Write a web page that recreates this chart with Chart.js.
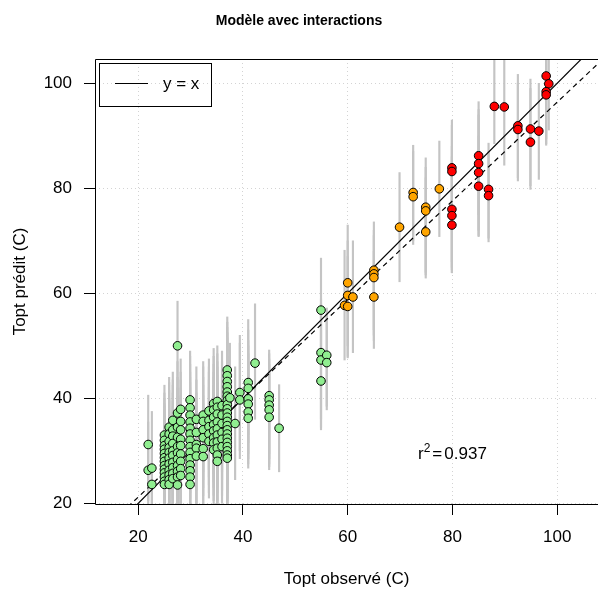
<!DOCTYPE html>
<html><head><meta charset="utf-8">
<script src="https://cdn.jsdelivr.net/npm/chart.js@4"></script>
<style>html,body{margin:0;padding:0;background:#fff;}#wrap{width:598px;height:591px;}</style>
</head><body><div id="wrap"><canvas id="c" width="598" height="591"></canvas></div>
<script>
const chartTitle = 'Modèle avec interactions';
const xLabel = 'Topt observé (C)';
const yLabel = 'Topt prédit (C)';
const legendLabel = 'y = x';
const r2Value = '0.937';
const r2Pos = [80, 29.6];
const xTicks = [20, 40, 60, 80, 100];
const yTicks = [20, 40, 60, 80, 100];
const xRange = [11.74, 107.8];
const yRange = [19.87, 104.63];
const fitSlope = 0.94;
const fitIntercept = 2.4;

const greenX = [
 21.9, 21.9, 22.6, 22.6,
 25.0, 25.0, 25.0, 25.0, 25.0, 25.0, 25.0, 25.0, 25.0, 25.0, 25.0, 25.0, 25.0,
 25.9, 25.9, 25.9, 25.9, 25.9, 25.9, 25.9, 25.9, 25.9, 25.9, 25.9,
 26.6, 26.6, 26.6, 26.6, 26.6, 26.6, 26.6, 26.6, 26.6, 26.6,
 27.5, 27.5, 27.5, 27.5, 27.5, 27.5, 27.5, 27.5, 27.5, 27.5, 27.5,
 28.1, 28.1, 28.1, 28.1, 28.1, 28.1, 28.1, 28.1, 28.1,
 29.9, 29.9, 29.9, 29.9, 29.9, 29.9, 29.9, 29.9, 29.9, 29.9, 29.9, 29.9, 29.9, 29.9,
 31.1, 31.1, 31.1, 31.1, 31.1,
 32.4, 32.4, 32.4, 32.4, 32.4, 32.4,
 33.5, 33.5, 33.5, 33.5, 33.5,
 34.4, 34.4, 34.4, 34.4, 34.4, 34.4, 34.4, 34.4,
 35.1, 35.1, 35.1, 35.1, 35.1, 35.1, 35.1, 35.1, 35.1, 35.1,
 36.0, 36.0, 36.0, 36.0, 36.0, 36.0,
 37.0, 37.0, 37.0, 37.0, 37.0, 37.0, 37.0, 37.0, 37.0, 37.0, 37.0, 37.0, 37.0, 37.0, 37.0, 37.0, 37.0, 37.0, 37.0, 37.0, 37.0,
 37.5, 38.5, 39.4, 39.4,
 41.0, 41.0, 41.0, 41.0, 41.0, 41.0,
 42.3,
 45.0, 45.0, 45.0, 45.0, 45.0,
 46.9,
 54.9, 54.9, 54.9, 54.9, 56.0, 56.0
];
const greenY = [
 31.2, 26.3, 26.7, 23.6,
 33.0, 32.0, 31.0, 30.3, 29.5, 28.7, 28.0, 27.2, 26.5, 25.8, 25.0, 24.2, 23.6,
 34.5, 33.2, 31.8, 30.6, 29.7, 28.6, 27.5, 26.3, 25.4, 24.5, 23.6,
 35.8, 34.0, 32.8, 31.4, 30.0, 29.1, 27.8, 26.8, 25.7, 24.7,
 50.0, 37.2, 34.5, 32.6, 30.8, 29.6, 28.4, 27.2, 26.1, 25.0, 23.5,
 37.9, 35.6, 34.0, 32.2, 31.0, 29.4, 28.0, 26.6, 25.3,
 39.7, 38.2, 36.8, 35.5, 34.3, 33.2, 32.0, 30.8, 29.7, 28.5, 27.3, 26.2, 25.0, 23.6,
 36.0, 33.5, 31.2, 30.5, 29.0,
 36.8, 35.6, 34.0, 32.5, 30.4, 28.9,
 37.6, 35.8, 34.6, 33.2, 31.8,
 39.0, 37.8, 36.4, 35.0, 33.8, 32.5, 31.5, 30.2,
 39.4, 38.3, 37.0, 35.5, 34.2, 33.0, 31.7, 30.5, 29.2, 28.0,
 38.6, 36.8, 35.2, 33.5, 32.2, 30.8,
 45.4, 44.3, 43.2, 42.2, 41.2, 40.4, 39.6, 38.8, 38.0, 37.2, 36.4, 35.6, 34.8, 34.0, 33.2, 32.4, 31.6, 30.8, 30.0, 29.2, 28.6,
 40.1, 35.2, 41.1, 39.7,
 43.0, 41.9, 39.9, 38.9, 37.4, 36.2,
 46.7,
 40.5, 39.7, 38.7, 37.8, 36.4,
 34.3,
 56.8, 48.7, 47.3, 43.3, 48.2, 46.8
];
const greenLo = [
 20.5, 17.0, 18.0, 15.0,
 22.0, 20.5, 19.0, 21.0, 18.0, 19.5, 17.0, 18.5, 16.0, 17.5, 15.5, 16.5, 14.0,
 23.0, 22.0, 20.0, 19.5, 18.0, 18.5, 16.5, 17.0, 15.5, 16.0, 14.5,
 24.5, 22.5, 21.0, 20.5, 19.0, 18.0, 17.5, 16.0, 15.5, 14.0,
 36.0, 26.0, 23.5, 21.5, 19.5, 19.0, 17.0, 16.5, 15.0, 14.5, 13.0,
 27.0, 24.5, 23.0, 21.0, 20.0, 18.5, 17.0, 16.0, 15.0,
 28.5, 27.0, 25.5, 24.0, 23.5, 22.0, 21.0, 19.5, 18.5, 17.5, 16.0, 15.5, 14.0, 13.5,
 25.0, 22.5, 20.0, 19.5, 18.0,
 26.0, 24.5, 23.0, 21.5, 19.5, 18.0,
 26.5, 25.0, 23.5, 22.0, 21.0,
 28.0, 26.5, 25.5, 24.0, 23.0, 21.5, 20.5, 19.0,
 28.5, 27.0, 26.0, 24.5, 23.0, 22.0, 20.5, 19.5, 18.0, 17.0,
 27.5, 26.0, 24.5, 22.5, 21.5, 20.0,
 34.0, 33.0, 32.0, 31.0, 30.0, 29.5, 28.5, 27.5, 27.0, 26.0, 25.0, 24.5, 23.5, 23.0, 22.0, 21.0, 20.5, 19.5, 19.0, 18.0, 17.5,
 29.0, 24.5, 30.0, 28.5,
 33.0, 31.5, 29.5, 28.5, 27.5, 26.7,
 36.0,
 29.5, 28.5, 27.5, 27.0, 26.4,
 26.0,
 46.0, 36.0, 34.0, 34.5, 37.8, 38.5
];
const greenHi = [
 40.6, 35.5, 37.5, 32.0,
 42.5, 41.0, 40.0, 39.0, 38.5, 38.0, 37.0, 36.0, 35.5, 34.5, 34.0, 33.0, 32.5,
 44.0, 43.0, 41.5, 40.0, 39.5, 38.0, 37.0, 36.0, 35.0, 34.0, 33.0,
 45.0, 43.5, 42.5, 41.0, 39.5, 38.5, 37.5, 36.0, 35.5, 34.0,
 58.5, 47.0, 44.0, 42.0, 40.5, 39.0, 38.0, 37.0, 35.5, 34.5, 33.0,
 47.5, 45.0, 43.5, 42.0, 40.5, 39.0, 37.5, 36.5, 35.0,
 49.0, 48.0, 46.5, 45.0, 44.0, 43.0, 42.0, 40.5, 39.5, 38.0, 37.0, 36.0, 34.5, 33.5,
 46.0, 43.5, 41.0, 40.0, 39.0,
 47.0, 46.0, 44.0, 42.5, 40.5, 39.0,
 47.5, 46.0, 45.0, 43.5, 42.0,
 49.5, 48.0, 46.5, 45.0, 44.0, 42.5, 41.5, 40.0,
 50.0, 48.5, 47.0, 46.0, 44.5, 43.0, 42.0, 40.5, 39.5, 38.0,
 49.0, 47.0, 45.5, 44.0, 42.5, 41.0,
 55.5, 54.5, 53.5, 52.5, 51.5, 50.5, 49.5, 49.0, 48.0, 47.0, 46.5, 45.5, 45.0, 44.0, 43.0, 42.5, 41.5, 40.5, 40.0, 39.0, 38.5,
 50.5, 46.0, 52.0, 50.5,
 55.0, 53.0, 51.0, 50.0, 48.5, 47.0,
 58.0,
 49.2, 48.5, 47.5, 46.5, 45.5,
 42.6,
 66.7, 59.0, 58.0, 53.0, 57.2, 56.0
];

const orangeX = [72.5, 72.5, 77.5, 74.9, 74.9, 74.9, 69.9, 65.0, 65.0, 65.0, 65.0, 60.0, 60.0, 61.0, 59.4, 60.0];
const orangeY = [79.2, 78.4, 79.9, 76.4, 75.7, 71.7, 72.6, 64.4, 63.7, 63.0, 59.3, 62.0, 59.6, 59.3, 57.7, 57.5];
const orangeLo = [69.3, 70.0, 70.8, 63.5, 62.9, 64.0, 62.2, 53.0, 51.0, 52.0, 49.5, 50.0, 47.7, 48.7, 47.3, 48.0];
const orangeHi = [88.2, 87.0, 89.0, 85.8, 84.0, 82.0, 83.0, 73.6, 72.0, 71.0, 68.0, 73.0, 70.0, 70.0, 68.2, 67.0];

const redX = [97.9, 98.4, 97.9, 97.9, 88.0, 89.9, 92.5, 92.5, 94.9, 96.5, 94.9, 85.0, 85.0, 85.0, 85.0, 86.9, 86.9, 79.9, 79.9, 79.9, 79.9, 79.9];
const redY = [101.4, 99.9, 98.4, 97.8, 95.6, 95.5, 91.9, 91.2, 91.3, 90.9, 88.8, 86.2, 84.7, 83.0, 80.4, 79.8, 78.6, 83.9, 83.2, 76.0, 74.8, 73.0];
const redLo = [88.2, 91.1, 89.5, 88.5, 88.5, 84.4, 81.4, 82.0, 79.8, 81.7, 80.5, 75.0, 72.0, 70.8, 71.0, 69.8, 70.5, 66.0, 65.0, 63.9, 64.5, 64.0];
const redHi = [112, 110, 108, 107, 112, 110, 101.7, 100, 100.8, 100, 99, 96.5, 95, 94, 90, 88.6, 87, 93, 92, 88, 86, 84];

const pts = (xs, ys) => xs.map((x, i) => ({x: x, y: ys[i]}));
const bars = (xs, lo, hi) => xs.map((x, i) => ({x: x, y: [lo[i], hi[i]]}));
const errBars = bars(greenX, greenLo, greenHi).concat(bars(orangeX, orangeLo, orangeHi), bars(redX, redLo, redHi));
const refLine = [{x: xRange[0], y: xRange[0]}, {x: xRange[1], y: xRange[1]}];
const fitLine = [{x: xRange[0], y: fitIntercept + fitSlope * xRange[0]}, {x: xRange[1], y: fitIntercept + fitSlope * xRange[1]}];

const FONT = "'Liberation Sans', Arial, Helvetica, sans-serif";
Chart.defaults.font.family = FONT;
Chart.defaults.color = '#000';

const framePlugin = {
  id: 'frame',
  afterDatasetsDraw(chart) {
    const {ctx, chartArea: a} = chart;
    ctx.save();
    ctx.strokeStyle = '#000';
    ctx.lineWidth = 1;
    ctx.beginPath();
    ctx.moveTo(a.right + 5, a.top + 0.5);
    ctx.lineTo(a.left + 0.5, a.top + 0.5);
    ctx.lineTo(a.left + 0.5, a.bottom + 0.5);
    ctx.lineTo(a.right + 5, a.bottom + 0.5);
    ctx.stroke();
    ctx.restore();
  }
};
const legendPlugin = {
  id: 'boxLegend',
  afterDraw(chart) {
    const {ctx, chartArea: a} = chart;
    ctx.save();
    ctx.strokeStyle = '#000';
    ctx.lineWidth = 1;
    ctx.strokeRect(a.left + 4.5, a.top + 4.5, 112, 43);
    ctx.beginPath();
    ctx.moveTo(a.left + 20, a.top + 24.5);
    ctx.lineTo(a.left + 53, a.top + 24.5);
    ctx.stroke();
    ctx.fillStyle = '#000';
    ctx.font = '17px ' + FONT;
    ctx.textBaseline = 'middle';
    ctx.textAlign = 'left';
    ctx.fillText(legendLabel, a.left + 68, a.top + 25.5);
    ctx.restore();
  }
};
const r2Plugin = {
  id: 'r2',
  afterDraw(chart) {
    const {ctx, scales} = chart;
    const cx = scales.x.getPixelForValue(r2Pos[0]);
    const cy = scales.y.getPixelForValue(r2Pos[1]);
    ctx.save();
    ctx.fillStyle = '#000';
    ctx.textBaseline = 'alphabetic';
    ctx.textAlign = 'left';
    const big = '17px ' + FONT, small = '12px ' + FONT;
    ctx.font = big; const wr = ctx.measureText('r').width;
    ctx.font = small; const w2 = ctx.measureText('2').width;
    ctx.font = big; const weq = ctx.measureText('=').width;
    const wv = ctx.measureText(r2Value).width;
    const gap = 2;
    const total = wr + w2 + gap + weq + gap + wv;
    let x = cx - total / 2;
    const base = cy + 6;
    ctx.font = big; ctx.fillText('r', x, base); x += wr;
    ctx.font = small; ctx.fillText('2', x, base - 7); x += w2 + gap;
    ctx.font = big; ctx.fillText('=', x, base); x += weq + gap;
    ctx.fillText(r2Value, x, base);
    ctx.restore();
  }
};

const axisCommon = {
  type: 'linear',
  offset: false,
  grid: { color: '#d3d3d3', lineWidth: 1, tickColor: '#000', tickLength: 11, tickWidth: 1, tickBorderDash: [], offset: false, drawTicks: true },
  border: { display: false, dash: [1, 3] },
  ticks: { font: { size: 17 }, padding: 12, color: '#000', includeBounds: false }
};

new Chart(document.getElementById('c'), {
  type: 'scatter',
  data: {
    datasets: [
      { type: 'scatter', label: 'red', data: pts(redX, redY), pointRadius: 4.3, pointBackgroundColor: '#ff0000', pointBorderColor: '#000', pointBorderWidth: 1, order: 0 },
      { type: 'scatter', label: 'orange', data: pts(orangeX, orangeY), pointRadius: 4.3, pointBackgroundColor: '#ffa500', pointBorderColor: '#000', pointBorderWidth: 1, order: 0 },
      { type: 'scatter', label: 'green', data: pts(greenX, greenY), pointRadius: 4.3, pointBackgroundColor: '#90ee90', pointBorderColor: '#000', pointBorderWidth: 1, order: 0 },
      { type: 'line', label: legendLabel, data: refLine, showLine: true, borderColor: '#000', borderWidth: 1.2, pointRadius: 0, fill: false, order: 1 },
      { type: 'line', label: 'fit', data: fitLine, showLine: true, borderColor: '#000', borderWidth: 1.2, borderDash: [5, 4], pointRadius: 0, fill: false, order: 1 },
      { type: 'bar', label: 'err', data: errBars, backgroundColor: '#c4c4c4', borderWidth: 0, barThickness: 1.5, grouped: false, order: 2 }
    ]
  },
  options: {
    responsive: false,
    animation: false,
    events: [],
    layout: { padding: 0, autoPadding: false },
    plugins: {
      legend: { display: false },
      tooltip: { enabled: false },
      title: { display: true, text: chartTitle, color: '#000', font: { size: 14, weight: 'bold' }, padding: { top: 12.6, bottom: 29.6 } }
    },
    scales: {
      x: Object.assign({}, axisCommon, {
        position: 'bottom', min: xRange[0], max: xRange[1],
        afterBuildTicks: s => { s.ticks = xTicks.map(v => ({value: v})); },
        afterFit: s => { s.height = 87; },
        title: { display: true, text: xLabel, font: { size: 17 }, color: '#000', padding: { top: 0, bottom: 1 } }
      }),
      y: Object.assign({}, axisCommon, {
        position: 'left', min: yRange[0], max: yRange[1],
        afterBuildTicks: s => { s.ticks = yTicks.map(v => ({value: v})); },
        afterFit: s => { s.width = 95; },
        title: { display: true, text: yLabel, font: { size: 17 }, color: '#000', padding: { top: 10, bottom: 0 } }
      })
    }
  },
  plugins: [framePlugin, legendPlugin, r2Plugin]
});
</script></body></html>
